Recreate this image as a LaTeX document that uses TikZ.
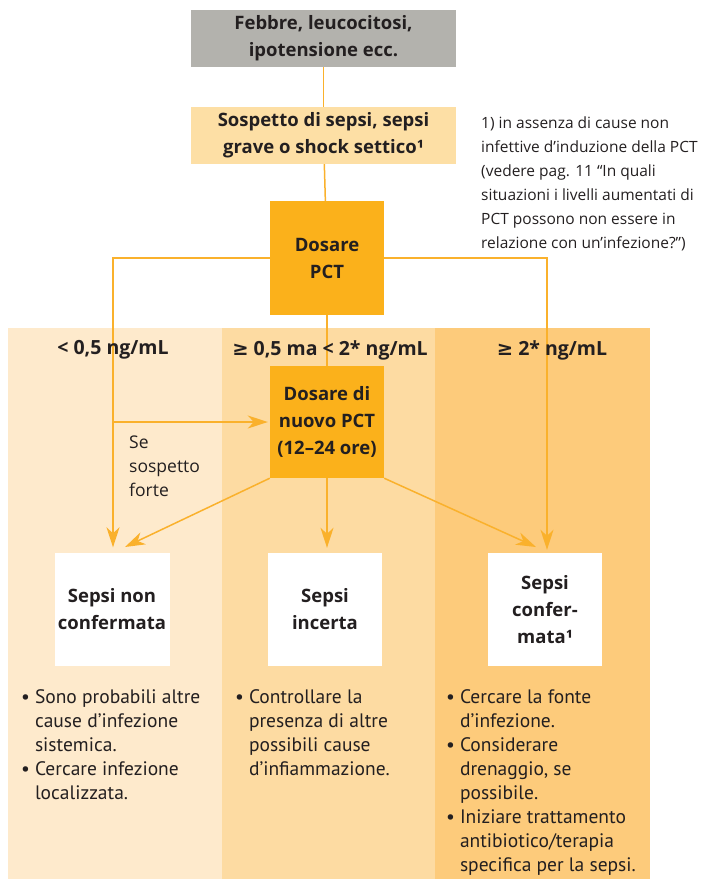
\documentclass[tikz,border=0pt]{standalone}
\usepackage{fontspec}
\setmainfont{Open Sans}
\newfontfamily\narrowfont{PT Sans}
\newfontfamily\symfont{DejaVu Sans}
\usetikzlibrary{arrows.meta,positioning}
\definecolor{greybox}{HTML}{B3B2AD}
\definecolor{peach}{HTML}{FDDFA5}
\definecolor{pctorange}{HTML}{FBB11B}
\definecolor{bandlow}{HTML}{FEEACC}
\definecolor{bandmid}{HTML}{FDDBA2}
\definecolor{bandhigh}{HTML}{FDCB7B}
\definecolor{linecol}{HTML}{FAB12C}
\definecolor{ink}{HTML}{231F20}

\begin{document}
\begin{tikzpicture}[x=1pt, y=-1pt,
  flowbox/.style={inner sep=0pt, align=center, text=ink, font=\fontsize{18.5}{27}\selectfont\bfseries},
  rangelab/.style={inner sep=0pt, text=ink, font=\fontsize{19.5}{22}\selectfont\bfseries},
  conn/.style={linecol, line width=1.5pt},
  arr/.style={conn, -{Stealth[length=20pt, width=13pt, inset=6pt]}},
  note/.style={inner sep=0pt, anchor=base west, text=ink}]
  \useasboundingbox (0,0) rectangle (704,879);

  % PCT bands
  \foreach \xa/\xb/\col in {8/222/bandlow, 222/435/bandmid, 435/650/bandhigh}{
    \fill[\col] (\xa,328) rectangle (\xb,879);
  }

  % boxes
  \node[flowbox, fill=greybox, minimum width=265pt, minimum height=57pt] (sympt) at (323.5,38.5) {Febbre, leucocitosi,\\ipotensione ecc.};
  \node[flowbox, fill=peach, minimum width=265pt, minimum height=57pt] (susp) at (323.5,135.5) {Sospetto di sepsi, sepsi\\grave o shock settico¹};
  \node[flowbox, fill=pctorange, minimum width=114pt, minimum height=114pt] (dose) at (327,258) {Dosare\\PCT};
  \node[flowbox, fill=pctorange, minimum width=114pt, minimum height=112pt] (retest) at (327,422) {Dosare di\\nuovo PCT\\(12–24 ore)};
  \node[flowbox, fill=white, minimum width=115pt, minimum height=113pt] (nconf) at (112,609) {Sepsi non\\confermata};
  \node[flowbox, fill=white, minimum width=114pt, minimum height=113pt] (unc) at (325,609.5) {Sepsi\\incerta};
  \node[flowbox, fill=white, minimum width=114pt, minimum height=113pt] (conf) at (545,609.5) {Sepsi\\confer-\\mata¹};

  \coordinate (lowtip) at (125,547);
  \coordinate (hightip) at (536,547);
  \coordinate (branch) at (113,422);

  % connectors
  \draw[conn] (sympt) -- (susp);
  \draw[conn] (susp) -- (dose);
  \draw[conn] (dose) -- (retest);
  \draw[arr, shorten >=5pt] (dose.west) -| ([xshift=1pt]nconf.north);
  \draw[arr, shorten >=3pt] (dose.east) -| ([xshift=2pt]conf.north);
  \draw[arr, shorten >=2pt] (branch) -- (retest.west);
  \draw[arr] (retest.south west) -- (lowtip);
  \draw[arr, shorten >=5pt] (retest.south) -- (retest.south |- unc.north);
  \draw[arr] (retest.south east) -- (hightip);

  % range labels
  \node[rangelab] (rlow) at (113,350) {< 0,5 ng/mL};
  \node[rangelab] (rmid) at (330,350) {{\symfont ≥} 0,5 ma < 2* ng/mL};
  \node[rangelab] (rhigh) at (552,350) {{\symfont ≥} 2* ng/mL};

  \node[note, font=\fontsize{17.5}{24}\selectfont] (strong) at (129,448) {\begin{tabular}[t]{@{}l@{}}Se\\sospetto\\forte\end{tabular}};

  % footnote
  \node[note, font=\fontsize{15.5}{24}\selectfont] (fnote) at (481,128) {\begin{tabular}[t]{@{}l@{}}
    1) in assenza di cause non\\
    infettive d’induzione della PCT\\
    (vedere pag. 11 “In quali\\
    situazioni i livelli aumentati di\\
    PCT possono non essere in\\
    relazione con un’infezione?”)\end{tabular}};

  % bullet lists
  \node[note, font=\narrowfont\fontsize{19.5}{24}\selectfont] (actlow) at (21,703) {\begin{tabular}[t]{@{}l@{\hspace{5pt}}l@{}}
    • & Sono probabili altre\\ & cause d’infezione\\ & sistemica.\\
    • & Cercare infezione\\ & localizzata.\end{tabular}};
  \node[note, font=\narrowfont\fontsize{19.5}{24}\selectfont] (actmid) at (235,703) {\begin{tabular}[t]{@{}l@{\hspace{5pt}}l@{}}
    • & Controllare la\\ & presenza di altre\\ & possibili cause\\ & d’infiammazione.\end{tabular}};
  \node[note, font=\narrowfont\fontsize{19.5}{24}\selectfont] (acthigh) at (446,703) {\begin{tabular}[t]{@{}l@{\hspace{5pt}}l@{}}
    • & Cercare la fonte\\ & d’infezione.\\
    • & Considerare\\ & drenaggio, se\\ & possibile.\\
    • & Iniziare trattamento\\ & antibiotico/terapia\\ & specifica per la sepsi.\end{tabular}};
\end{tikzpicture}
\end{document}
